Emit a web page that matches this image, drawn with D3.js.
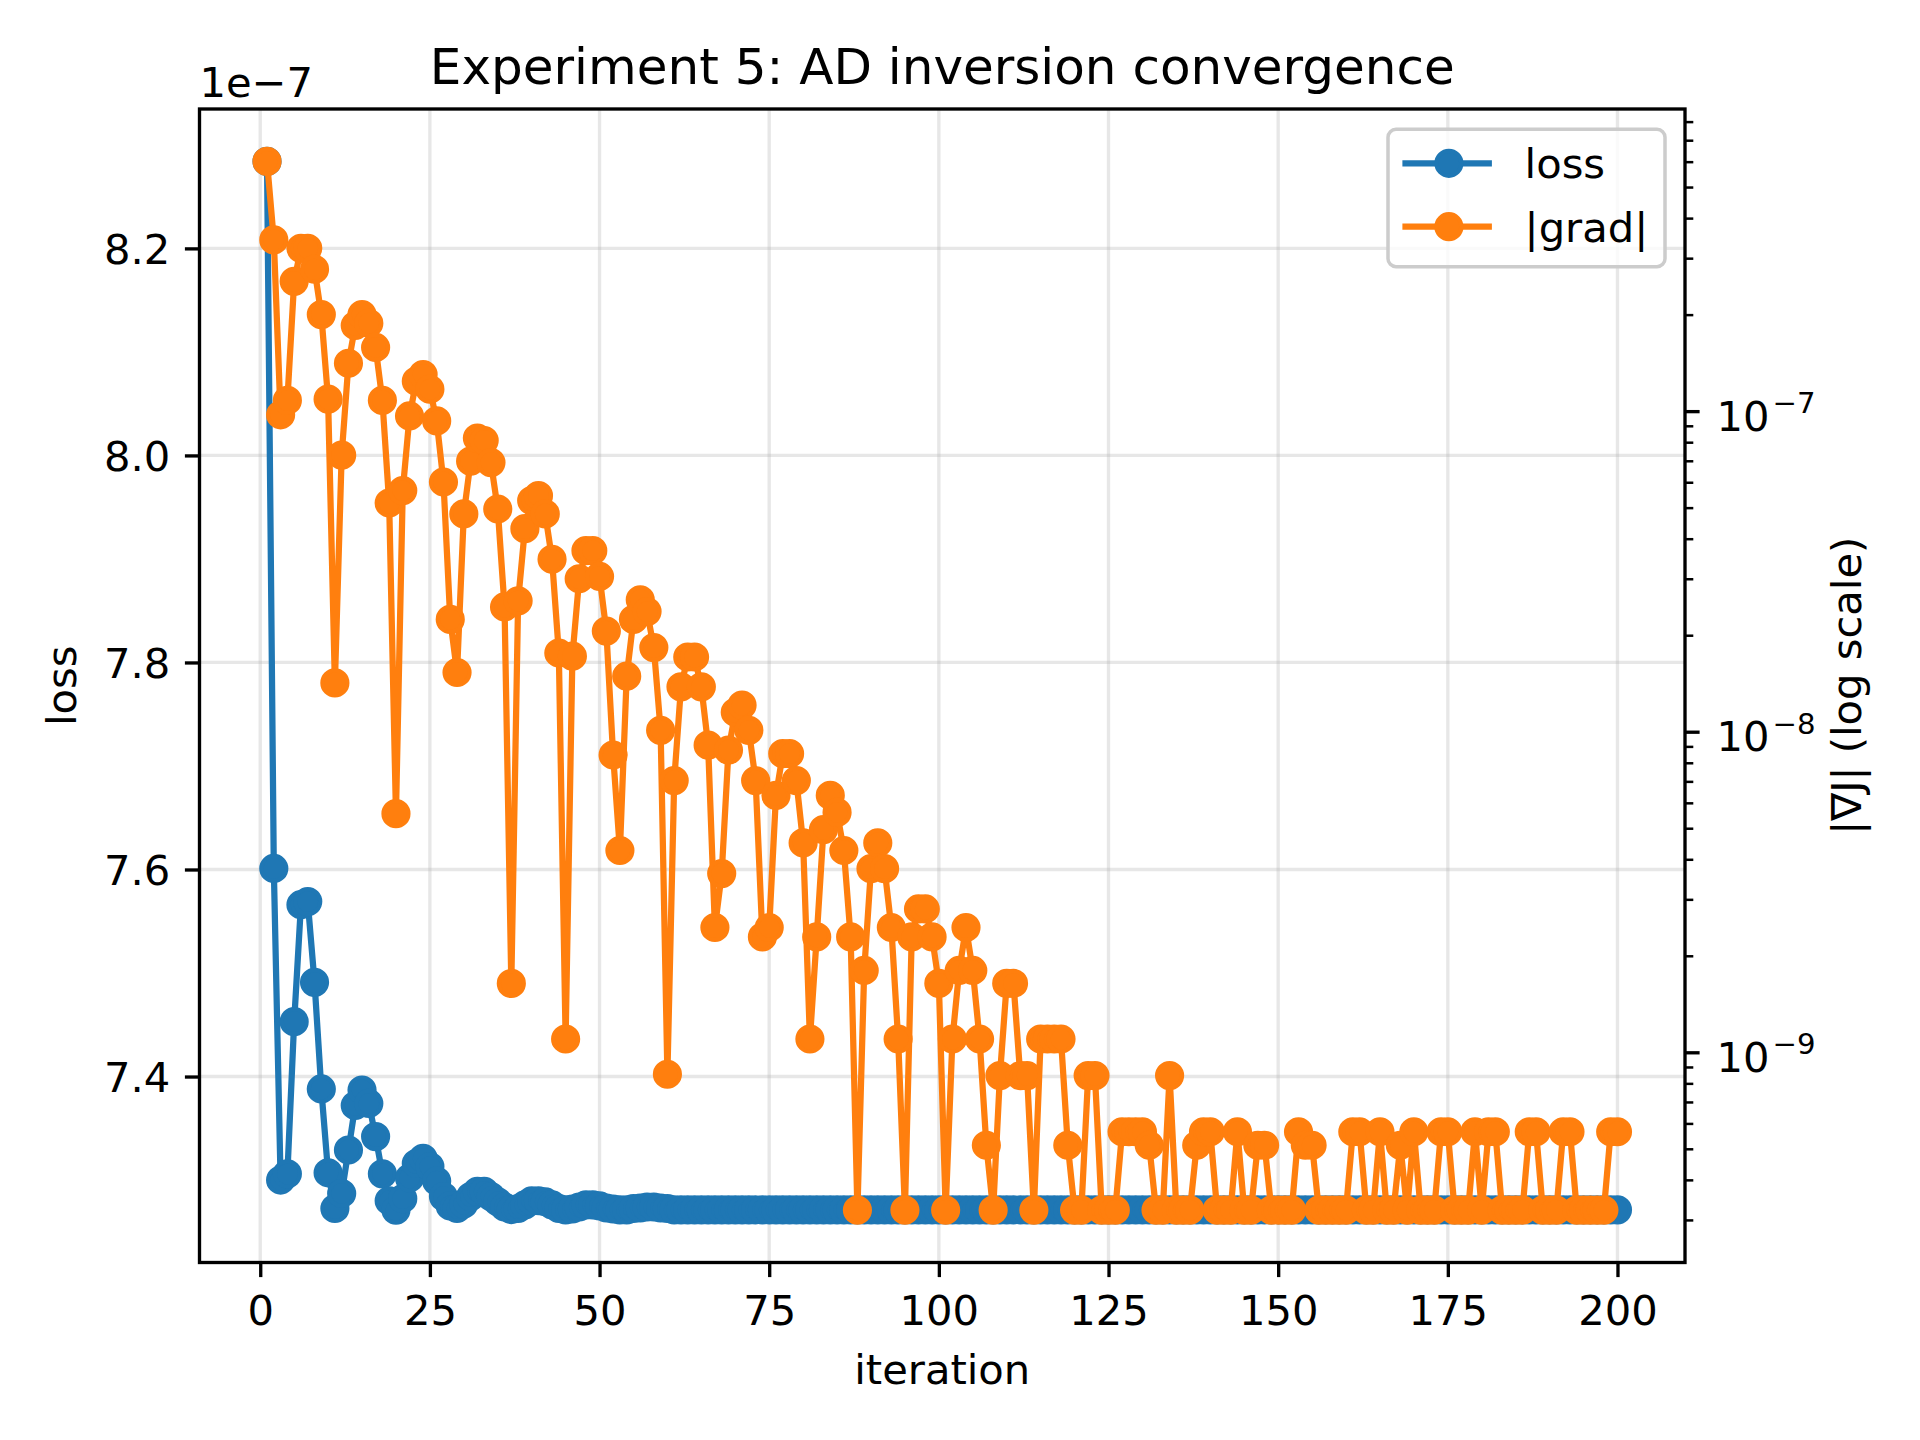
<!DOCTYPE html>
<html>
<head>
<meta charset="utf-8">
<script src="https://cdn.jsdelivr.net/npm/d3@7"></script>
<style>
  body { margin: 0; background: #fff; }
  text { font-family: "DejaVu Sans", sans-serif; fill: #000; }
</style>
</head>
<body>
<svg id="chart" width="1920" height="1440"></svg>
<script>
// tick labels
const xTicks = [0, 25, 50, 75, 100, 125, 150, 175, 200];
const lossTicks = [7.4, 7.6, 7.8, 8.0, 8.2];
const gradTicks = [1e-9, 1e-8, 1e-7];

// loss, in units of 1e-7 (offset text on the axis)
const lossE7 = [
  8.284, 7.601, 7.300, 7.306, 7.453, 7.566, 7.569, 7.491, 7.388, 7.307,
  7.2725, 7.287, 7.329, 7.372, 7.387, 7.374, 7.342, 7.306, 7.280, 7.271,
  7.282, 7.302, 7.316, 7.321, 7.313, 7.299, 7.284, 7.275, 7.2725, 7.277,
  7.284, 7.289, 7.289, 7.284, 7.279, 7.274, 7.2715, 7.2725, 7.276, 7.280,
  7.280, 7.279, 7.276, 7.2725, 7.2712, 7.272, 7.274, 7.276, 7.276, 7.275,
  7.273, 7.272, 7.2712, 7.2712, 7.2725, 7.273, 7.274, 7.274, 7.273, 7.2725,
  7.2712, 7.2712, 7.2712, 7.2712, 7.2712, 7.2712, 7.2712, 7.2712, 7.2712, 7.2712,
  7.2712, 7.2712, 7.2712, 7.2712, 7.2712, 7.2712, 7.2712, 7.2712, 7.2712, 7.2712,
  7.2712, 7.2712, 7.2712, 7.2712, 7.2712, 7.2712, 7.2712, 7.2712, 7.2712, 7.2712,
  7.2712, 7.2712, 7.2712, 7.2712, 7.2712, 7.2712, 7.2712, 7.2712, 7.2712, 7.2712,
  7.2712, 7.2712, 7.2712, 7.2712, 7.2712, 7.2712, 7.2712, 7.2712, 7.2712, 7.2712,
  7.2712, 7.2712, 7.2712, 7.2712, 7.2712, 7.2712, 7.2712, 7.2712, 7.2712, 7.2712,
  7.2712, 7.2712, 7.2712, 7.2712, 7.2712, 7.2712, 7.2712, 7.2712, 7.2712, 7.2712,
  7.2712, 7.2712, 7.2712, 7.2712, 7.2712, 7.2712, 7.2712, 7.2712, 7.2712, 7.2712,
  7.2712, 7.2712, 7.2712, 7.2712, 7.2712, 7.2712, 7.2712, 7.2712, 7.2712, 7.2712,
  7.2712, 7.2712, 7.2712, 7.2712, 7.2712, 7.2712, 7.2712, 7.2712, 7.2712, 7.2712,
  7.2712, 7.2712, 7.2712, 7.2712, 7.2712, 7.2712, 7.2712, 7.2712, 7.2712, 7.2712,
  7.2712, 7.2712, 7.2712, 7.2712, 7.2712, 7.2712, 7.2712, 7.2712, 7.2712, 7.2712,
  7.2712, 7.2712, 7.2712, 7.2712, 7.2712, 7.2712, 7.2712, 7.2712, 7.2712, 7.2712,
  7.2712, 7.2712, 7.2712, 7.2712, 7.2712, 7.2712, 7.2712, 7.2712, 7.2712, 7.2712
];

// |grad|
const grad = [
  6.01e-7, 3.42e-7, 9.74e-8, 1.08e-7, 2.54e-7, 3.22e-7, 3.22e-7, 2.77e-7, 2.00e-7, 1.09e-7,
  1.42e-8, 7.29e-8, 1.41e-7, 1.85e-7, 2.00e-7, 1.88e-7, 1.58e-7, 1.08e-7, 5.17e-8, 5.55e-9,
  5.65e-8, 9.66e-8, 1.24e-7, 1.30e-7, 1.17e-7, 9.32e-8, 6.01e-8, 2.24e-8, 1.53e-8, 4.78e-8,
  6.98e-8, 8.24e-8, 8.10e-8, 6.91e-8, 4.95e-8, 2.45e-8, 1.64e-9, 2.56e-8, 4.30e-8, 5.26e-8,
  5.45e-8, 4.78e-8, 3.45e-8, 1.76e-8, 1.10e-9, 1.72e-8, 3.00e-8, 3.67e-8, 3.67e-8, 3.05e-8,
  2.06e-8, 8.46e-9, 4.26e-9, 1.49e-8, 2.24e-8, 2.58e-8, 2.37e-8, 1.83e-8, 1.01e-8, 8.54e-10,
  7.04e-9, 1.38e-8, 1.71e-8, 1.71e-8, 1.38e-8, 9.08e-9, 2.45e-9, 3.61e-9, 8.76e-9, 1.15e-8,
  1.21e-8, 1.01e-8, 7.04e-9, 2.29e-9, 2.45e-9, 6.33e-9, 8.54e-9, 8.54e-9, 7.04e-9, 4.50e-9,
  1.10e-9, 2.29e-9, 4.95e-9, 6.33e-9, 5.60e-9, 4.26e-9, 2.29e-9, 3.22e-10, 1.80e-9, 3.74e-9,
  4.50e-9, 3.74e-9, 2.45e-9, 1.10e-9, 3.22e-10, 2.29e-9, 2.80e-9, 2.80e-9, 2.29e-9, 1.64e-9,
  3.22e-10, 1.10e-9, 1.80e-9, 2.45e-9, 1.80e-9, 1.10e-9, 5.13e-10, 3.22e-10, 8.46e-10, 1.64e-9,
  1.64e-9, 8.46e-10, 8.46e-10, 3.22e-10, 1.10e-9, 1.10e-9, 1.10e-9, 1.10e-9, 5.13e-10, 3.22e-10,
  3.22e-10, 8.46e-10, 8.46e-10, 3.22e-10, 3.22e-10, 3.22e-10, 5.65e-10, 5.65e-10, 5.65e-10, 5.65e-10,
  5.13e-10, 3.22e-10, 3.22e-10, 8.46e-10, 3.22e-10, 3.22e-10, 3.22e-10, 5.13e-10, 5.65e-10, 5.65e-10,
  3.22e-10, 3.22e-10, 3.22e-10, 5.65e-10, 3.22e-10, 3.22e-10, 5.13e-10, 5.13e-10, 3.22e-10, 3.22e-10,
  3.22e-10, 3.22e-10, 5.65e-10, 5.13e-10, 5.13e-10, 3.22e-10, 3.22e-10, 3.22e-10, 3.22e-10, 3.22e-10,
  5.65e-10, 5.65e-10, 3.22e-10, 3.22e-10, 5.65e-10, 3.22e-10, 3.22e-10, 5.13e-10, 3.22e-10, 5.65e-10,
  3.22e-10, 3.22e-10, 3.22e-10, 5.65e-10, 5.65e-10, 3.22e-10, 3.22e-10, 3.22e-10, 5.65e-10, 3.22e-10,
  5.65e-10, 5.65e-10, 3.22e-10, 3.22e-10, 3.22e-10, 3.22e-10, 5.65e-10, 5.65e-10, 3.22e-10, 3.22e-10,
  3.22e-10, 5.65e-10, 5.65e-10, 3.22e-10, 3.22e-10, 3.22e-10, 3.22e-10, 3.22e-10, 5.65e-10, 5.65e-10
];

const iterations = d3.range(1, lossE7.length + 1);
const points = iterations.map((it, i) => ({ it, loss: lossE7[i], grad: grad[i] }));

const BLUE = '#1f77b4', ORANGE = '#ff7f0e';
const FS = 41.67;                 // 10pt @ 300dpi
const M = { left: 199.5, right: 1685, top: 109, bottom: 1262.5 };

// matplotlib style 5% margins
function pad(ext) {
  const r = ext[1] - ext[0];
  return [ext[0] - 0.05 * r, ext[1] + 0.05 * r];
}

const x = d3.scaleLinear().domain(pad(d3.extent(iterations))).range([M.left, M.right]);
const yL = d3.scaleLinear().domain(pad(d3.extent(lossE7))).range([M.bottom, M.top]);
const logExt = pad(d3.extent(grad).map(Math.log10));
const yR = d3.scaleLog().domain([Math.pow(10, logExt[0]), Math.pow(10, logExt[1])]).range([M.bottom, M.top]);

const svg = d3.select('#chart');
svg.append('rect').attr('width', 1920).attr('height', 1440).attr('fill', '#fff');

// grid (x and left y only)
const grid = svg.append('g').attr('stroke', '#b0b0b0').attr('stroke-opacity', 0.3).attr('stroke-width', 3.33);
grid.selectAll('.gx').data(xTicks).enter().append('line')
  .attr('x1', d => x(d)).attr('x2', d => x(d)).attr('y1', M.top).attr('y2', M.bottom);
grid.selectAll('.gy').data(lossTicks).enter().append('line')
  .attr('x1', M.left).attr('x2', M.right).attr('y1', d => yL(d)).attr('y2', d => yL(d));

// loss series
svg.append('path')
  .datum(points)
  .attr('fill', 'none')
  .attr('stroke', BLUE)
  .attr('stroke-width', 6.25)
  .attr('stroke-linejoin', 'round')
  .attr('d', d3.line().x(d => x(d.it)).y(d => yL(d.loss)));
svg.append('g').selectAll('circle')
  .data(points)
  .enter().append('circle')
  .attr('cx', d => x(d.it))
  .attr('cy', d => yL(d.loss))
  .attr('r', 12.5)
  .attr('fill', BLUE)
  .attr('stroke', BLUE)
  .attr('stroke-width', 4.17);

// grad series (twin axis, drawn on top)
svg.append('path')
  .datum(points)
  .attr('fill', 'none')
  .attr('stroke', ORANGE)
  .attr('stroke-width', 6.25)
  .attr('stroke-linejoin', 'round')
  .attr('d', d3.line().x(d => x(d.it)).y(d => yR(d.grad)));
svg.append('g').selectAll('circle')
  .data(points)
  .enter().append('circle')
  .attr('cx', d => x(d.it))
  .attr('cy', d => yR(d.grad))
  .attr('r', 12.5)
  .attr('fill', ORANGE)
  .attr('stroke', ORANGE)
  .attr('stroke-width', 4.17);

// axes
function styleAxis(g) {
  g.select('.domain').remove();
  g.selectAll('.tick line').attr('stroke', '#000').attr('stroke-width', 3.33);
  g.selectAll('.tick text').attr('font-size', FS).attr('font-family', 'DejaVu Sans').attr('fill', '#000');
}

const gx = svg.append('g').attr('transform', `translate(0,${M.bottom})`)
  .call(d3.axisBottom(x).tickValues(xTicks).tickSize(14.6).tickPadding(14.6).tickSizeOuter(0));
styleAxis(gx);
gx.selectAll('.tick text').attr('dy', '0.8em');

const gl = svg.append('g').attr('transform', `translate(${M.left},0)`)
  .call(d3.axisLeft(yL).tickValues(lossTicks).tickFormat(d3.format('.1f')).tickSize(14.6).tickPadding(14.6));
styleAxis(gl);
gl.selectAll('.tick text').attr('dy', '0.365em');

// right log axis: minor ticks, then majors with 10^n labels
const minor = yR.ticks().filter(v => !gradTicks.some(t => Math.abs(t - v) / t < 1e-6));
const gr = svg.append('g').attr('transform', `translate(${M.right},0)`)
  .call(d3.axisRight(yR).tickValues(minor).tickSize(8.3).tickFormat(''));
gr.select('.domain').remove();
gr.selectAll('.tick line').attr('stroke', '#000').attr('stroke-width', 2.5);

const grm = svg.append('g').attr('transform', `translate(${M.right},0)`)
  .call(d3.axisRight(yR).tickValues(gradTicks).tickSize(14.6).tickPadding(29.2).tickFormat(''));
styleAxis(grm);
grm.selectAll('.tick text').remove();
const sup = grm.selectAll('.tick').append('text')
  .attr('x', 31.5)
  .attr('y', 19)
  .attr('font-size', FS);
sup.append('tspan').text('10');
sup.append('tspan')
  .attr('font-size', FS * 0.7)
  .attr('dy', -17.6)
  .attr('dx', 3)
  .text(d => '\u2212' + Math.abs(Math.round(Math.log10(d))));

// frame
svg.append('rect')
  .attr('x', M.left).attr('y', M.top)
  .attr('width', M.right - M.left).attr('height', M.bottom - M.top)
  .attr('fill', 'none').attr('stroke', '#000').attr('stroke-width', 3.33);

// texts
svg.append('text')
  .attr('x', (M.left + M.right) / 2).attr('y', 84)
  .attr('text-anchor', 'middle').attr('font-size', 50)
  .text('Experiment 5: AD inversion convergence');
svg.append('text')
  .attr('x', M.left).attr('y', 97)
  .attr('font-size', FS)
  .text('1e\u22127');
svg.append('text')
  .attr('x', (M.left + M.right) / 2).attr('y', 1384)
  .attr('text-anchor', 'middle').attr('font-size', FS)
  .text('iteration');
svg.append('text')
  .attr('transform', `translate(76,${(M.top + M.bottom) / 2}) rotate(-90)`)
  .attr('text-anchor', 'middle').attr('font-size', FS)
  .text('loss');
svg.append('text')
  .attr('transform', `translate(1861,${(M.top + M.bottom) / 2}) rotate(-90)`)
  .attr('text-anchor', 'middle').attr('font-size', FS)
  .text('|\u2207J| (log scale)');

// legend
const legend = svg.append('g');
legend.append('rect')
  .attr('x', 1388).attr('y', 129.3).attr('width', 277).attr('height', 137.4)
  .attr('rx', 8).attr('fill', '#fff').attr('fill-opacity', 0.8)
  .attr('stroke', '#cccccc').attr('stroke-width', 3.5);
const entries = [
  { name: 'loss', color: BLUE, y: 163.3 },
  { name: '|grad|', color: ORANGE, y: 226.7 }
];
const le = legend.selectAll('.entry').data(entries).enter().append('g');
le.append('line')
  .attr('x1', 1402.4).attr('x2', 1491.9)
  .attr('y1', d => d.y).attr('y2', d => d.y)
  .attr('stroke', d => d.color).attr('stroke-width', 6.25);
le.append('circle')
  .attr('cx', 1448.9).attr('cy', d => d.y).attr('r', 12.5)
  .attr('fill', d => d.color).attr('stroke', d => d.color).attr('stroke-width', 4.17);
le.append('text')
  .attr('x', 1524.6).attr('y', d => d.y + 15)
  .attr('font-size', FS)
  .text(d => d.name);
</script>
</body>
</html>
